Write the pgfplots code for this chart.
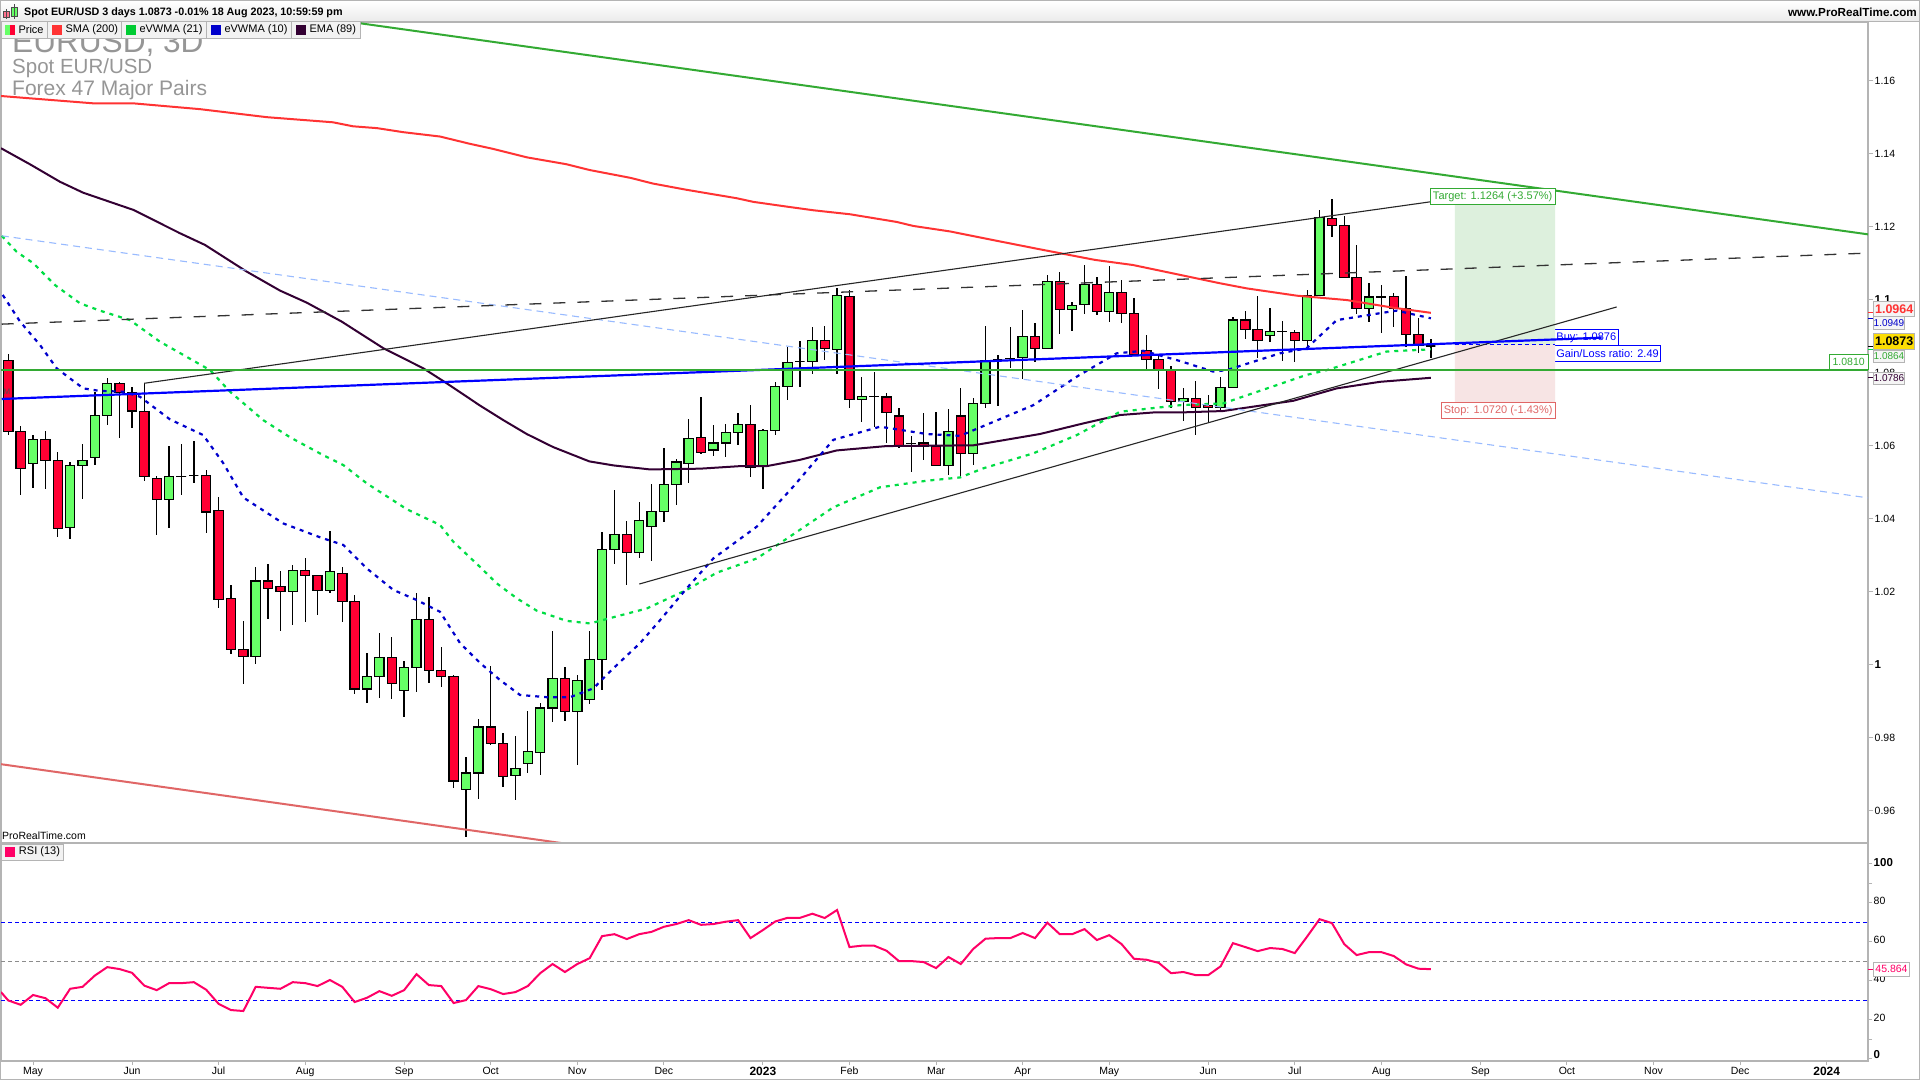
\documentclass[border=0pt]{standalone}
\usepackage{pgfplots}
\usepackage{pgfplotstable}
\usepackage{fontspec}
\pgfplotsset{compat=1.18}
\setmainfont{Liberation Sans}

\definecolor{candleup}{HTML}{66FF66}
\definecolor{candledown}{HTML}{FF0033}
\definecolor{smared}{HTML}{FF3333}
\definecolor{emadark}{HTML}{330033}
\definecolor{vwgreen}{HTML}{00DD44}
\definecolor{vwblue}{HTML}{0000CC}
\definecolor{trendgreen}{HTML}{33AA33}
\definecolor{trendred}{HTML}{E06666}
\definecolor{trendblue}{HTML}{0000FF}
\definecolor{lightblue}{HTML}{99BBFF}
\definecolor{framegrey}{HTML}{B4B4B4}
\definecolor{wmgrey}{HTML}{969696}
\definecolor{rsipink}{HTML}{FF0066}
\definecolor{targetfill}{HTML}{DDF0DD}
\definecolor{stopfill}{HTML}{F7E4E4}
\definecolor{legbg}{HTML}{F2F2F2}
\definecolor{swatchgreen}{HTML}{00CC33}

\newcommand{\fs}[1]{\fontsize{#1pt}{#1pt}\selectfont}
% box given in pixels of the reference: x1 y1 x2 y2 fill draw textcolour text
\newcommand{\lab}[8]{%
  \filldraw[fill=#5,draw=#6,line width=1pt] (#1,#2) rectangle (#3,#4);
  \node[text=#7,inner sep=0pt,anchor=center] at ({(#1+#3)/2},{(#2+#4)/2}) {#8};}

% bar index, open, high, low, close
\pgfplotstableread{
i o h l c
0 1.0833 1.0851 1.0629 1.0638
1 1.0639 1.0654 1.0465 1.0538
2 1.0552 1.0629 1.0485 1.0617
3 1.0617 1.0640 1.0480 1.0560
4 1.0560 1.0582 1.0351 1.0374
5 1.0376 1.0555 1.0345 1.0546
6 1.0546 1.0605 1.0455 1.0560
7 1.0568 1.0747 1.0547 1.0683
8 1.0683 1.0785 1.0657 1.0771
9 1.0771 1.0774 1.0622 1.0746
10 1.0746 1.0762 1.0649 1.0695
11 1.0694 1.0771 1.0502 1.0516
12 1.0511 1.0517 1.0354 1.0453
13 1.0453 1.0599 1.0375 1.0516
14 1.0516 1.0605 1.0466 1.0516
15 1.0518 1.0613 1.0499 1.0518
16 1.0519 1.0533 1.0362 1.0418
17 1.0423 1.0459 1.0156 1.0179
18 1.0182 1.0218 1.0030 1.0042
19 1.0042 1.0120 0.9948 1.0023
20 1.0023 1.0268 1.0003 1.0229
21 1.0229 1.0276 1.0126 1.0209
22 1.0215 1.0257 1.0091 1.0200
23 1.0201 1.0273 1.0110 1.0259
24 1.0259 1.0292 1.0118 1.0245
25 1.0245 1.0245 1.0137 1.0204
26 1.0204 1.0366 1.0197 1.0256
27 1.0250 1.0268 1.0118 1.0174
28 1.0174 1.0191 0.9921 0.9933
29 0.9933 1.0032 0.9896 0.9968
30 0.9968 1.0087 0.9910 1.0020
31 1.0020 1.0076 0.9907 0.9949
32 0.9930 1.0010 0.9858 0.9993
33 0.9993 1.0196 0.9926 1.0124
34 1.0124 1.0186 0.9951 0.9985
35 0.9985 1.0049 0.9940 0.9968
36 0.9968 0.9972 0.9663 0.9681
37 0.9659 0.9747 0.9529 0.9703
38 0.9703 0.9851 0.9631 0.9829
39 0.9829 0.9996 0.9780 0.9785
40 0.9785 0.9813 0.9666 0.9694
41 0.9697 0.9805 0.9628 0.9716
42 0.9730 0.9873 0.9704 0.9763
43 0.9760 0.9895 0.9699 0.9881
44 0.9881 1.0092 0.9844 0.9963
45 0.9963 0.9994 0.9847 0.9872
46 0.9872 0.9972 0.9724 0.9957
47 0.9905 1.0092 0.9891 1.0015
48 1.0015 1.0364 0.9932 1.0316
49 1.0316 1.0479 1.0277 1.0357
50 1.0357 1.0394 1.0219 1.0308
51 1.0308 1.0446 1.0291 1.0396
52 1.0379 1.0495 1.0285 1.0420
53 1.0420 1.0594 1.0390 1.0494
54 1.0494 1.0564 1.0438 1.0555
55 1.0552 1.0673 1.0499 1.0620
56 1.0623 1.0734 1.0578 1.0582
57 1.0588 1.0657 1.0573 1.0607
58 1.0607 1.0660 1.0570 1.0637
59 1.0637 1.0690 1.0603 1.0659
60 1.0659 1.0712 1.0515 1.0542
61 1.0546 1.0646 1.0480 1.0642
62 1.0642 1.0775 1.0628 1.0763
63 1.0763 1.0871 1.0726 1.0828
64 1.0830 1.0887 1.0762 1.0830
65 1.0831 1.0925 1.0797 1.0889
66 1.0889 1.0928 1.0836 1.0867
67 1.0864 1.1031 1.0797 1.1012
68 1.1009 1.1027 1.0704 1.0727
69 1.0727 1.0788 1.0666 1.0735
70 1.0734 1.0802 1.0652 1.0734
71 1.0733 1.0744 1.0608 1.0691
72 1.0681 1.0703 1.0595 1.0600
73 1.0606 1.0626 1.0529 1.0606
74 1.0607 1.0689 1.0562 1.0597
75 1.0597 1.0692 1.0543 1.0546
76 1.0546 1.0700 1.0521 1.0639
77 1.0681 1.0757 1.0513 1.0579
78 1.0579 1.0730 1.0548 1.0716
79 1.0716 1.0928 1.0702 1.0834
80 1.0836 1.0849 1.0710 1.0836
81 1.0839 1.0925 1.0813 1.0839
82 1.0842 1.0972 1.0784 1.0900
83 1.0900 1.0936 1.0828 1.0867
84 1.0867 1.1068 1.0864 1.1050
85 1.1050 1.1076 1.0907 1.0974
86 1.0974 1.0994 1.0914 1.0985
87 1.0987 1.1095 1.0961 1.1042
88 1.1042 1.1062 1.0958 1.0968
89 1.0968 1.1092 1.0939 1.1020
90 1.1020 1.1054 1.0936 1.0963
91 1.0963 1.1005 1.0845 1.0849
92 1.0861 1.0903 1.0807 1.0837
93 1.0837 1.0848 1.0756 1.0807
94 1.0807 1.0818 1.0704 1.0722
95 1.0722 1.0758 1.0668 1.0729
96 1.0729 1.0778 1.0629 1.0705
97 1.0711 1.0739 1.0661 1.0705
98 1.0705 1.0788 1.0698 1.0760
99 1.0760 1.0953 1.0757 1.0944
100 1.0944 1.0969 1.0891 1.0919
101 1.0919 1.1010 1.0841 1.0889
102 1.0902 1.0977 1.0885 1.0913
103 1.0912 1.0942 1.0832 1.0912
104 1.0911 1.0917 1.0829 1.0889
105 1.0889 1.1027 1.0867 1.1012
106 1.1012 1.1246 1.1010 1.1226
107 1.1223 1.1276 1.1173 1.1204
108 1.1204 1.1228 1.1059 1.1061
109 1.1061 1.1150 1.0961 1.0976
110 1.0976 1.1046 1.0940 1.1007
111 1.1007 1.1040 1.0909 1.1007
112 1.1009 1.1018 1.0926 1.0976
113 1.0976 1.1065 1.0871 1.0905
114 1.0905 1.0949 1.0853 1.0875
115 1.0873 1.0892 1.0841 1.0873
}\candles

\begin{document}
\begin{tikzpicture}[x=1pt,y=1pt]
\path[use as bounding box] (0,0) rectangle (1920,1080);
\fill[white] (0,0) rectangle (1920,1080);

% boxes under the blue trend line
\begin{scope}[y=-1pt,shift={(0pt,1080pt)}]
\fs{11}
\lab{1554.3}{329.7}{1618.3}{345.3}{white}{trendblue}{trendblue}{Buy: 1.0876}
\lab{1554.3}{345.3}{1660.7}{361.3}{white}{trendblue}{trendblue}{Gain/Loss ratio: 2.49}
\end{scope}

\begin{axis}[
    at={(1pt,237pt)}, anchor=south west,
    scale only axis, width=1867pt, height=821pt,
    xmin=-0.59, xmax=150.34, ymin=0.95115, ymax=1.17608,
    axis line style={draw=framegrey,line width=1.2pt},
    xtick=\empty,
    ytick pos=right, yticklabel pos=right,
    ytick={0.96,0.98,1,1.02,1.04,1.06,1.08,1.1,1.12,1.14,1.16},
    yticklabels={0.96,0.98,{\fs{11.5}\bfseries 1},1.02,1.04,1.06,1.08,{\fs{11.5}\bfseries 1.1},1.12,1.14,1.16},
    yticklabel style={anchor=west,inner sep=1.5pt,font=\fs{10.5}},
    tick align=outside, major tick length=5pt,
    tick style={draw=framegrey,line width=1pt},
]
% target and stop zones
\addplot[draw=none,fill=targetfill,forget plot] coordinates {(116.95,1.0876)(116.95,1.1264)(125.04,1.1264)(125.04,1.0876)(116.95,1.0876)};
\addplot[draw=none,fill=stopfill,forget plot] coordinates {(116.95,1.0720)(116.95,1.0876)(125.04,1.0876)(125.04,1.0720)(116.95,1.0720)};
\addplot[trendblue,line width=1pt,dash pattern=on 4pt off 3pt,forget plot] coordinates {(116.95,1.0876)(125.04,1.0876)};

% wicks
\addplot[draw=none,mark=none,forget plot,
    error bars/.cd,y dir=both,y explicit,error mark=none,
    error bar style={black,line width=1.3pt}]
    table[x=i,y=c,y error plus expr=\thisrow{h}-\thisrow{c},y error minus expr=\thisrow{c}-\thisrow{l}] {\candles};
% bodies
\pgfplotsinvokeforeach{0,...,115}{
    \pgfplotstablegetelem{#1}{o}\of\candles\let\barO\pgfplotsretval
    \pgfplotstablegetelem{#1}{c}\of\candles\let\barC\pgfplotsretval
    \pgfmathsetmacro\barL{#1-0.37}
    \pgfmathsetmacro\barR{#1+0.37}
    \ifdim\barC pt<\barO pt \def\barFill{candledown}\else\def\barFill{candleup}\fi
    \edef\temp{\noexpand\addplot[draw=black,line width=1.3pt,line cap=rect,fill=\barFill,forget plot]
        coordinates {(\barL,\barO)(\barR,\barO)(\barR,\barC)(\barL,\barC)(\barL,\barO)};}
    \temp
}

% SMA 200
\addplot[smared,line width=2pt] coordinates {(-0.59,1.1558)(6.85,1.1538)(10.08,1.1538)(15.50,1.1522)(20.91,1.1500)(26.25,1.1486)(27.87,1.1475)(29.81,1.1470)(31.91,1.1459)(34.90,1.1447)(37.32,1.1427)(39.21,1.1413)(41.91,1.1390)(45.14,1.1371)(47.03,1.1355)(50.26,1.1334)(52.14,1.1318)(54.84,1.1301)(58.88,1.1278)(60.23,1.1268)(62.93,1.1255)(65.08,1.1245)(68.05,1.1234)(71.82,1.1213)(73.16,1.1202)(76.13,1.1187)(79.36,1.1165)(83.40,1.1138)(87.85,1.1109)(90.92,1.1095)(94.72,1.1068)(97.95,1.1045)(100.11,1.1031)(104.16,1.1011)(108.20,1.0999)(111.97,1.0978)(115,1.0964)};
% EMA 89
\addplot[emadark,line width=2pt] coordinates {(-0.59,1.1415)(1.75,1.1371)(4.18,1.1323)(6.06,1.1293)(10.11,1.1246)(13.88,1.1182)(15.90,1.1150)(19.27,1.1077)(21.96,1.1025)(24.12,1.0992)(26.95,1.0940)(30.32,1.0867)(33.55,1.0812)(35.44,1.0771)(38.13,1.0710)(40.02,1.0670)(41.91,1.0632)(44.06,1.0596)(46.97,1.0557)(48.91,1.0546)(51.87,1.0535)(55.92,1.0537)(59.15,1.0544)(61.31,1.0544)(63.97,1.0561)(66.97,1.0587)(71.01,1.0599)(78.01,1.0601)(83.40,1.0632)(86.90,1.0661)(89.87,1.0684)(92.56,1.0691)(94.72,1.0691)(98.22,1.0695)(103.88,1.0723)(107.39,1.0757)(110.89,1.0775)(115,1.0786)};
% eVWMA 21
\addplot[vwgreen,line width=2.2pt,dash pattern=on 4pt off 5pt] coordinates {(-0.53,1.1175)(0.68,1.1131)(2.02,1.1100)(3.78,1.1040)(5.80,1.0990)(7.41,1.0970)(9.84,1.0944)(12.26,1.0885)(16.31,1.0807)(17.92,1.0748)(20.61,1.0670)(22.78,1.0623)(25.46,1.0574)(27.08,1.0547)(28.97,1.0497)(32.21,1.0426)(34.90,1.0383)(35.97,1.0337)(38.13,1.0268)(39.48,1.0223)(41.10,1.0182)(42.72,1.0148)(45.14,1.0120)(47.03,1.0113)(48.91,1.0130)(51.61,1.0154)(54.84,1.0205)(57.27,1.0252)(60.50,1.0291)(62.39,1.0333)(66.69,1.0431)(70.47,1.0486)(74.24,1.0504)(76.94,1.0513)(78.82,1.0538)(82.86,1.0579)(86.37,1.0629)(89.87,1.0693)(94.72,1.0711)(98.22,1.0716)(104.96,1.0794)(106.58,1.0807)(111.43,1.0858)(115,1.0864)};
% eVWMA 10
\addplot[vwblue,line width=2.2pt,dash pattern=on 4pt off 5pt] coordinates {(-0.45,1.1013)(0.95,1.0940)(2.56,1.0876)(3.91,1.0812)(6.06,1.0757)(7.41,1.0750)(9.30,1.0748)(10.65,1.0734)(13.07,1.0672)(15.76,1.0629)(17.38,1.0552)(19.00,1.0458)(22.23,1.0387)(25.20,1.0349)(27.08,1.0328)(28.97,1.0264)(31.12,1.0205)(33.02,1.0177)(34.90,1.0145)(36.52,1.0059)(38.13,1.0005)(39.75,0.9958)(41.37,0.9917)(43.52,0.9911)(45.41,0.9911)(47.29,0.9935)(48.91,0.9990)(51.07,1.0059)(52.69,1.0122)(54.84,1.0209)(56.99,1.0291)(60.50,1.0378)(63.46,1.0488)(66.69,1.0616)(70.47,1.0652)(74.24,1.0632)(76.94,1.0627)(82.86,1.0711)(86.37,1.0789)(89.60,1.0853)(91.75,1.0860)(94.72,1.0832)(97.41,1.0803)(98.50,1.0807)(102.80,1.0853)(104.96,1.0867)(107.39,1.0944)(110.89,1.0963)(112.24,1.0970)(115,1.0949)};

% hand drawn trend lines
\addplot[lightblue,line width=1.1pt,dash pattern=on 7pt off 5pt] coordinates {(-0.53,1.1175)(150.34,1.0457)};
\addplot[black!80,line width=1.3pt,dash pattern=on 12pt off 12pt] coordinates {(-0.53,1.0933)(149.83,1.1127)};
\addplot[black!85,line width=1.1pt] coordinates {(10.99,1.0771)(114.93,1.1268)};
\addplot[black!85,line width=1.1pt] coordinates {(51.01,1.0221)(130.02,1.0980)};
\addplot[trendgreen,line width=2pt] coordinates {(-0.59,1.1895)(150.34,1.1179)};
\addplot[trendred,line width=2pt] coordinates {(-0.59,0.97274)(44.68,0.95115)};
\addplot[trendblue,line width=2.2pt] coordinates {(-0.53,1.0728)(128.81,1.0896)};
\addplot[trendgreen,line width=2pt] coordinates {(-0.59,1.0808)(150.34,1.0808)};
\end{axis}

\begin{axis}[
    at={(1pt,19pt)}, anchor=south west,
    scale only axis, width=1867pt, height=218pt,
    xmin=-0.59, xmax=150.34, ymin=-1.23, ymax=110.56,
    axis line style={draw=framegrey,line width=1.2pt},
    xtick pos=bottom, ytick pos=right, yticklabel pos=right,
    xtick={2,10,17,24,32,39,46,53,61,68,75,82,89,97,104,111,119,126,133,140,147},
    xticklabels={May,Jun,Jul,Aug,Sep,Oct,Nov,Dec,{\fs{12}\bfseries 2023},Feb,Mar,Apr,May,Jun,Jul,Aug,Sep,Oct,Nov,Dec,{\fs{12}\bfseries 2024}},
    ytick={0,10,20,40,60,80,90,100},
    yticklabels={\raisebox{5pt}{\fs{11.5}\bfseries 0},,20,40,60,80,,{\fs{11.5}\bfseries 100}},
    yticklabel style={anchor=west,inner sep=1.5pt,font=\fs{10.5}},
    xticklabel style={font=\fs{10.5},inner sep=2pt},
    typeset ticklabels with strut,
    tick align=outside, major tick length=4pt,
    tick style={draw=framegrey,line width=1pt},
]
\addplot[trendblue,line width=.9pt,dash pattern=on 4pt off 3pt] coordinates {(-0.59,70)(150.34,70)};
\addplot[black!45,line width=.9pt,dash pattern=on 4pt off 3pt] coordinates {(-0.59,50)(150.34,50)};
\addplot[trendblue,line width=.9pt,dash pattern=on 4pt off 3pt] coordinates {(-0.59,30)(150.34,30)};
% RSI 13
\addplot[rsipink,line width=2pt] coordinates {(-0.59,34.1)(0,29.8)(1,27.6)(2,32.6)(3,31.0)(4,26.1)(5,35.8)(6,36.8)(7,42.6)(8,46.9)(9,45.9)(10,44.0)(11,37.4)(12,35.1)(13,38.7)(14,38.7)(15,39.2)(16,35.3)(17,28.1)(18,24.9)(19,24.4)(20,36.8)(21,36.3)(22,35.8)(23,39.2)(24,38.7)(25,37.2)(26,40.3)(27,36.8)(28,29.0)(29,31.2)(30,34.6)(31,32.2)(32,35.1)(33,43.3)(34,37.7)(35,37.2)(36,28.5)(37,30.0)(38,37.2)(39,35.6)(40,33.1)(41,34.1)(42,37.2)(43,43.8)(44,48.5)(45,44.4)(46,48.5)(47,51.5)(48,62.8)(49,63.8)(50,61.3)(51,63.8)(52,65.0)(53,67.6)(54,69.0)(55,71.0)(56,68.6)(57,69.0)(58,70.2)(59,71.0)(60,61.8)(61,65.9)(62,70.3)(63,72.2)(64,72.2)(65,74.3)(66,72.1)(67,76.2)(68,57.2)(69,57.9)(70,57.9)(71,55.3)(72,50.0)(73,50.0)(74,49.5)(75,46.4)(76,52.1)(77,48.5)(78,56.2)(79,61.5)(80,61.8)(81,61.8)(82,64.4)(83,61.8)(84,69.7)(85,63.8)(86,63.8)(87,66.4)(88,60.8)(89,63.3)(90,58.7)(91,51.2)(92,50.7)(93,49.1)(94,43.8)(95,44.4)(96,42.8)(97,42.8)(98,47.3)(99,59.2)(100,57.2)(101,55.1)(102,56.7)(103,56.2)(104,54.1)(105,62.6)(106,71.5)(107,69.5)(108,58.7)(109,53.1)(110,54.6)(111,54.6)(112,52.6)(113,48.3)(114,46.1)(115,45.864)};
\end{axis}

% window furniture and labels, in reference pixels from the top left
\begin{scope}[y=-1pt,shift={(0pt,1080pt)}]
% header
\shade[top color=white,bottom color=black!8] (0,1) rectangle (1920,21);
\draw[framegrey,line width=1.2pt] (0,21.5) -- (1920,21.5);
\draw[framegrey,line width=1pt] (0.5,0.5) rectangle (1919.5,1079.5);
\filldraw[fill=candledown!55,draw=black!70,line width=.7pt] (3.7,11.5) rectangle (9.7,17.5);
\draw[black!70,line width=.7pt] (6.7,9.5) -- (6.7,19);
\filldraw[fill=candleup,draw=black!70,line width=.7pt] (11,7.5) rectangle (17.3,16.7);
\draw[black!70,line width=.7pt] (14.2,4.5) -- (14.2,19);
\node[anchor=west,inner sep=0pt] at (24,12.3) {\fs{10.75}\bfseries Spot EUR/USD 3 days 1.0873 -0.01\% 18 Aug 2023, 10:59:59 pm};
\node[anchor=east,inner sep=0pt] at (1917,12.3) {\fs{11.7}\bfseries www.ProRealTime.com};

% watermark
\node[anchor=base west,inner sep=0pt,text=wmgrey] at (12,52.7) {\fs{31.6}EURUSD, 3D};
\node[anchor=base west,inner sep=0pt,text=wmgrey] at (12,74) {\fs{20.5}Spot EUR/USD};
\node[anchor=base west,inner sep=0pt,text=wmgrey] at (12,95.3) {\fs{21}Forex 47 Major Pairs};
\node[anchor=base west,inner sep=0pt] at (2,839) {\fs{10.5}ProRealTime.com};
\node[inner sep=0pt,text=black!70] at (7,392) {\fs{8}M};

% indicator legend
\filldraw[fill=legbg,draw=framegrey,line width=1pt] (1,22) rectangle (360.7,38.7);
\foreach \xb in {47.7,121.7,206.7,291.7} \draw[framegrey,line width=1pt] (\xb,22) -- (\xb,38.7);
\fill[candleup] (5,25) rectangle (10,35);
\fill[candledown] (10,25) rectangle (15,35);
\fill[smared] (52.3,25) rectangle (62.3,35);
\fill[swatchgreen] (126.3,25) rectangle (136.3,35);
\fill[vwblue] (211.3,25) rectangle (221.3,35);
\fill[emadark] (296.3,25) rectangle (306.3,35);
\fs{11}
\node[anchor=west,inner sep=0pt] at (18.3,29.5) {Price};
\node[anchor=west,inner sep=0pt] at (65.3,29.5) {SMA (200)};
\node[anchor=west,inner sep=0pt] at (139.3,29.5) {eVWMA (21)};
\node[anchor=west,inner sep=0pt] at (224.3,29.5) {eVWMA (10)};
\node[anchor=west,inner sep=0pt] at (309.3,29.5) {EMA (89)};

% RSI legend
\filldraw[fill=legbg,draw=framegrey,line width=1pt] (1,844) rectangle (63.4,860);
\fill[rsipink] (4.5,847) rectangle (14.7,857);
\node[anchor=west,inner sep=0pt] at (18.8,852) {RSI (13)};

% order labels
\fs{11}
\lab{1430.3}{188.7}{1555}{204.3}{white}{trendgreen}{trendgreen}{Target: 1.1264 (+3.57\%)}
\lab{1441.3}{402.3}{1555}{418.3}{white}{trendred}{trendred}{Stop: 1.0720 (-1.43\%)}
\lab{1829.3}{354.3}{1868}{370}{white}{trendgreen}{trendgreen}{\fs{10.5}1.0810}

% last value marks and boxes on the price scale
\draw[smared,line width=1pt] (1868,313) -- (1873.5,313);
\draw[vwblue,line width=1pt] (1868,319) -- (1873.5,319);
\draw[black,line width=1pt] (1868,346.7) -- (1873.5,346.7);
\draw[vwgreen,line width=1pt] (1868,350) -- (1873.5,350);
\draw[emadark,line width=1pt] (1868,378) -- (1873.5,378);
\draw[rsipink,line width=1pt] (1868,969) -- (1873.5,969);
\lab{1873.7}{301.3}{1914.7}{316.3}{black!4}{framegrey}{smared}{\fs{12.5}\bfseries 1.0964}
\lab{1873.7}{317}{1904.3}{329.3}{black!4}{framegrey}{vwblue}{\fs{10}1.0949}
\lab{1873.7}{333.3}{1914.7}{349.3}{yellow!80!orange}{framegrey}{black}{\fs{12.5}\bfseries 1.0873}
\lab{1873.7}{350.3}{1904.3}{362.7}{black!4}{framegrey}{trendgreen}{\fs{10}1.0864}
\lab{1873.7}{372.3}{1904.3}{384.7}{black!4}{framegrey}{emadark}{\fs{10}1.0786}
\lab{1873.7}{962.7}{1909.3}{976}{white}{framegrey}{rsipink}{\fs{10.5}45.864}
\end{scope}
\end{tikzpicture}
\end{document}
